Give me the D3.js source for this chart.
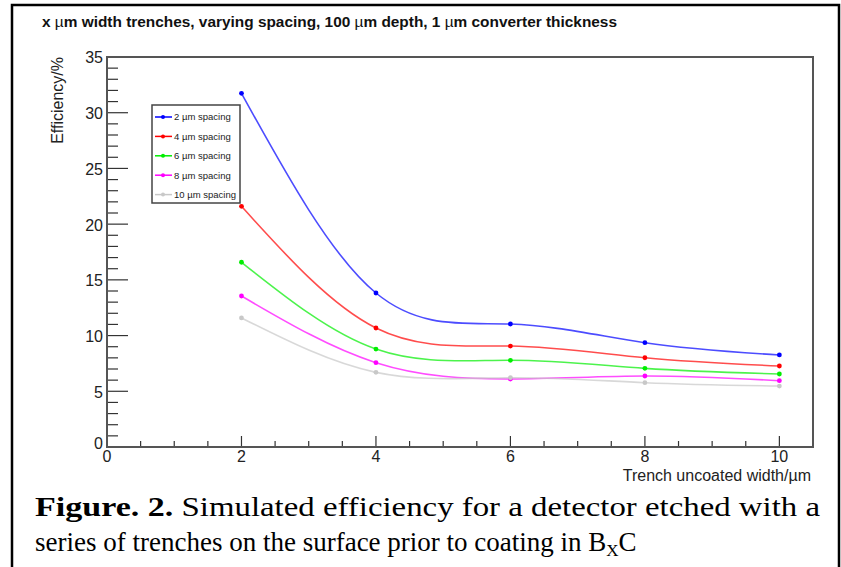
<!DOCTYPE html>
<html>
<head>
<meta charset="utf-8">
<script src="https://cdn.jsdelivr.net/npm/d3@7"></script>
<style>
  body { margin: 0; background: #fff; }
  svg { display: block; }
</style>
</head>
<body>
<div id="chart"></div>
<script>
// Data
const widths = [2, 4, 6, 8, 10];
const spacing2 = [31.74, 13.82, 11.04, 9.36, 8.26];
const spacing4 = [21.6, 10.68, 9.06, 8.01, 7.27];
const spacing6 = [16.58, 8.79, 7.78, 7.06, 6.55];
const spacing8 = [13.55, 7.57, 6.1, 6.37, 5.95];
const spacing10 = [11.58, 6.7, 6.22, 5.77, 5.47];
const seriesNames = ["2 \u00b5m spacing", "4 \u00b5m spacing", "6 \u00b5m spacing", "8 \u00b5m spacing", "10 \u00b5m spacing"];
const seriesColors = ["#0000ff", "#ff0000", "#00ee00", "#ff00ff", "#c8c8c8"];
const xTicks = [0, 2, 4, 6, 8, 10];
const yTicks = [0, 5, 10, 15, 20, 25, 30, 35];

const allSeries = [spacing2, spacing4, spacing6, spacing8, spacing10];

const W = 841, H = 567;
const frame = { left: 107, right: 813, top: 57, bottom: 447 };
const sans = "Liberation Sans, Arial, sans-serif";

const svg = d3.select("#chart")
  .append("svg")
    .attr("width", W)
    .attr("height", H);

svg.append("rect").attr("width", W).attr("height", H).attr("fill", "#fff");

// outer border of the figure
svg.append("path")
  .attr("d", `M12,${H + 2} L12,5 L839,5 L839,${H + 2}`)
  .attr("fill", "none")
  .attr("stroke", "#000")
  .attr("stroke-width", 2.5);

// title
const title = svg.append("text")
  .attr("x", 42)
  .attr("y", 27)
  .attr("font-family", sans)
  .attr("font-size", 15)
  .attr("font-weight", "bold")
  .attr("fill", "#111");
const titleParts = [["x ", true], ["\u00b5", false], ["m width trenches, varying spacing, 100 ", true], ["\u00b5", false], ["m depth, 1 ", true], ["\u00b5", false], ["m converter thickness", true]];
titleParts.forEach(p => {
  title.append("tspan").text(p[0]).attr("font-weight", p[1] ? "bold" : "normal");
});
title.attr("textLength", 575).attr("lengthAdjust", "spacingAndGlyphs");

// scales
const x = d3.scaleLinear().domain([0, 10.5]).range([frame.left, frame.right]);
const y = d3.scaleLinear().domain([0, 35]).range([frame.bottom, frame.top]);

const axisColor = "#333";

// y axis ticks (inside)
const yMinor = d3.range(0, 35.01, 1);
svg.append("g")
  .selectAll("line")
  .data(yMinor)
  .join("line")
    .attr("x1", frame.left)
    .attr("x2", d => frame.left + (d % 5 === 0 ? 21 : 11))
    .attr("y1", d => y(d))
    .attr("y2", d => y(d))
    .attr("stroke", axisColor)
    .attr("stroke-width", 1.2);

svg.append("g")
  .selectAll("text")
  .data(yTicks)
  .join("text")
    .attr("x", 103)
    .attr("y", d => y(d))
    .attr("dy", d => d === 0 ? "0.1em" : "0.4em")
    .attr("text-anchor", "end")
    .attr("font-family", sans)
    .attr("font-size", 16)
    .attr("fill", "#222")
    .text(d => d);

// x axis ticks (inside)
const xMinor = d3.range(0, 10.01, 0.5);
svg.append("g")
  .selectAll("line")
  .data(xMinor)
  .join("line")
    .attr("x1", d => x(d))
    .attr("x2", d => x(d))
    .attr("y1", frame.bottom)
    .attr("y2", d => frame.bottom - (d % 2 === 0 ? 11 : 6))
    .attr("stroke", axisColor)
    .attr("stroke-width", 1.2);

svg.append("g")
  .selectAll("text")
  .data(xTicks)
  .join("text")
    .attr("x", d => x(d))
    .attr("y", 462)
    .attr("text-anchor", "middle")
    .attr("font-family", sans)
    .attr("font-size", 16)
    .attr("fill", "#222")
    .text(d => d);

// axis titles
svg.append("text")
  .attr("transform", "translate(63,57) rotate(-90)")
  .attr("text-anchor", "end")
  .attr("font-family", sans)
  .attr("font-size", 16)
  .attr("fill", "#222")
  .text("Efficiency/%");

svg.append("text")
  .attr("x", 811)
  .attr("y", 481)
  .attr("text-anchor", "end")
  .attr("font-family", sans)
  .attr("font-size", 16)
  .attr("fill", "#222")
  .text("Trench uncoated width/\u00b5m");

// frame
svg.append("rect")
  .attr("x", frame.left)
  .attr("y", frame.top)
  .attr("width", frame.right - frame.left)
  .attr("height", frame.bottom - frame.top)
  .attr("fill", "none")
  .attr("stroke", "#555")
  .attr("stroke-width", 2);

// curves
const line = d3.line()
  .x((d, i) => x(widths[i]))
  .y(d => y(d))
  .curve(d3.curveNatural);

allSeries.forEach((vals, k) => {
  svg.append("path")
    .datum(vals)
    .attr("d", line)
    .attr("fill", "none")
    .attr("stroke", seriesColors[k])
    .attr("stroke-opacity", 0.7)
    .attr("stroke-width", 1.6);
  svg.append("g")
    .selectAll("circle")
    .data(vals)
    .join("circle")
      .attr("cx", (d, i) => x(widths[i]))
      .attr("cy", d => y(d))
      .attr("r", 2.4)
      .attr("fill", seriesColors[k]);
});

// legend
const legend = svg.append("g");
legend.append("rect")
  .attr("x", 152)
  .attr("y", 105)
  .attr("width", 88)
  .attr("height", 98)
  .attr("fill", "#fff")
  .attr("stroke", "#444")
  .attr("stroke-width", 1.5);
seriesNames.forEach((name, k) => {
  const ly = 117 + k * 19.4;
  legend.append("line")
    .attr("x1", 155).attr("x2", 172)
    .attr("y1", ly).attr("y2", ly)
    .attr("stroke", seriesColors[k])
    .attr("stroke-width", 1.5);
  legend.append("circle")
    .attr("cx", 163).attr("cy", ly).attr("r", 2)
    .attr("fill", seriesColors[k]);
  legend.append("text")
    .attr("x", 174)
    .attr("y", ly)
    .attr("dy", "0.35em")
    .attr("font-family", sans)
    .attr("font-size", 9.5)
    .attr("fill", "#222")
    .text(name);
});

// caption
const capFont = "Liberation Serif, Times New Roman, serif";
const cap1 = svg.append("text")
  .attr("x", 35)
  .attr("y", 516)
  .attr("font-family", capFont)
  .attr("font-size", 27)
  .attr("fill", "#000");
cap1.append("tspan").attr("font-weight", "bold").attr("font-size", 28).text("Figure. 2.");
cap1.append("tspan").text(" Simulated efficiency for a detector etched with a");
// the first line is justified to the right margin
cap1.attr("textLength", 820 - 35).attr("lengthAdjust", "spacingAndGlyphs");

const cap2 = svg.append("text")
  .attr("x", 35)
  .attr("y", 551)
  .attr("font-family", capFont)
  .attr("font-size", 27)
  .attr("fill", "#000");
cap2.append("tspan").text("series of trenches on the surface prior to coating in B");
cap2.append("tspan").attr("font-size", 17).attr("dy", 5).text("X");
cap2.append("tspan").attr("dy", -5).text("C");
</script>
</body>
</html>
